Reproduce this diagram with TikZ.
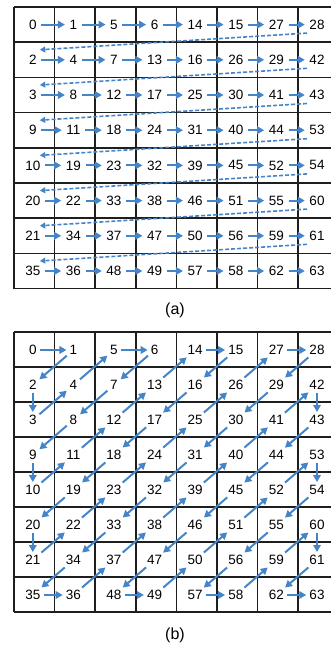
\documentclass[tikz,border=0pt]{standalone}
\usepackage{fontspec}
\setmainfont{Liberation Sans}
\usetikzlibrary{arrows.meta}
\definecolor{zigblue}{RGB}{70,132,200}
\definecolor{gridgray}{RGB}{30,30,30}

\begin{document}
\begin{tikzpicture}[x=1pt, y=-1pt,
  every node/.style={font=\fontsize{13.5}{13.5}\selectfont, inner sep=1.5pt},
  cellgrid/.style={gridgray, line width=1.6pt},
  scanarrow/.style={zigblue, line width=2pt, -{Triangle[length=7pt,width=7.5pt]}, shorten <=3pt, shorten >=3pt},
  zigarrow/.style={scanarrow, shorten <=1.5pt, shorten >=1.5pt},
  wraparrow/.style={zigblue, line width=1.6pt, dash pattern=on 4pt off 2pt, -{Triangle[length=5.5pt,width=6pt]}}]
  \clip (0,0) rectangle (331,646);
  \foreach \i in {0,...,8} {
    \draw[cellgrid] (14,{7+35.2*\i}) -- (339,{7+35.2*\i});
    \draw[cellgrid] ({14+40.6*\i},7) -- ({14+40.6*\i},288.6);
    \draw[cellgrid] (14,{332+35*\i}) -- (339,{332+35*\i});
    \draw[cellgrid] ({14+40.6*\i},332) -- ({14+40.6*\i},612);
  }
  \foreach \vals [count=\r from 0] in {{0,1,5,6,14,15,27,28},{2,4,7,13,16,26,29,42},
      {3,8,12,17,25,30,41,43},{9,11,18,24,31,40,44,53},{10,19,23,32,39,45,52,54},
      {20,22,33,38,46,51,55,60},{21,34,37,47,50,56,59,61},{35,36,48,49,57,58,62,63}}
    \foreach \v [count=\c from 0] in \vals {
      \node (a-\r-\c) at ({32.8+40.6*\c},{24.6+35.2*\r}) {\v};
      \node (b\v) at ({32.8+40.6*\c},{350+35*\r}) {\v};
      \ifnum\c>0
        \pgfmathtruncatemacro\pc{\c-1}
        \draw[scanarrow] (a-\r-\pc) -- (a-\r-\c);
      \fi
    }
  \foreach \r [evaluate=\r as \nr using int(\r+1)] in {0,...,6}
    \draw[wraparrow] ([shift={(-10pt,-8.5pt)}]a-\r-7.center) -- ([shift={(7pt,10pt)}]a-\nr-0.center);
  \foreach \k [evaluate=\k as \nk using int(\k+1)] in {0,...,62}
    \draw[zigarrow] (b\k) -- (b\nk);
  \node[font=\fontsize{16}{16}\selectfont] (cap-a) at (175,310) {(a)};
  \node[font=\fontsize{16}{16}\selectfont] (cap-b) at (175,635) {(b)};
\end{tikzpicture}
\end{document}
